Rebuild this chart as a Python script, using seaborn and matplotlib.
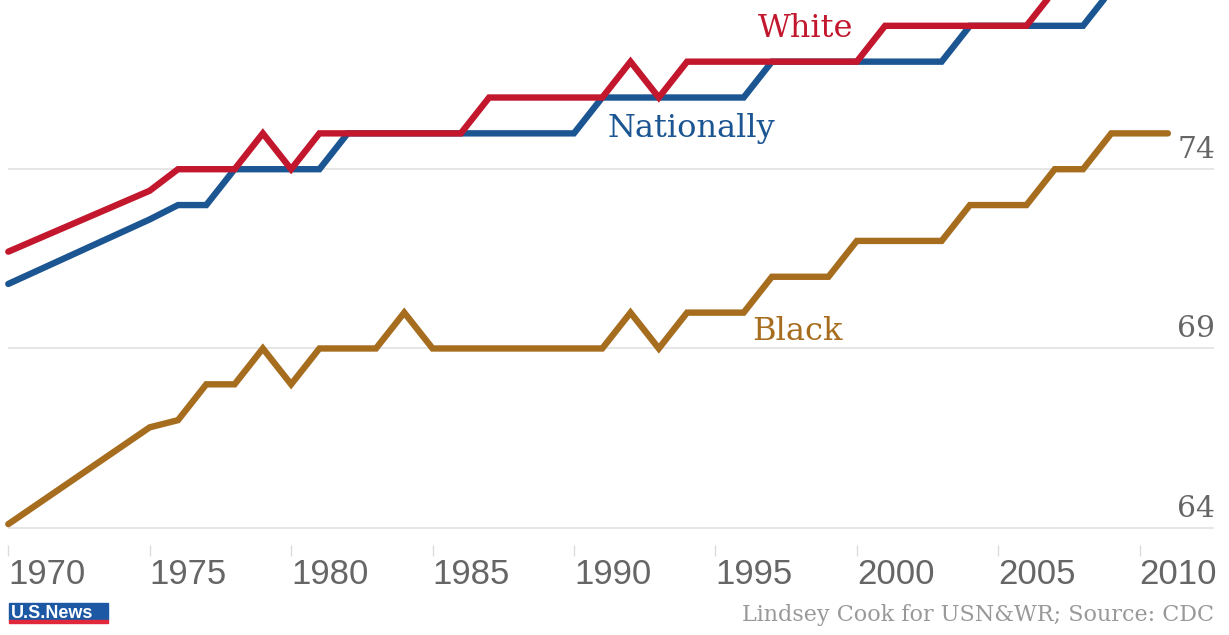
import pandas as pd
import numpy as np
import matplotlib.pyplot as plt
import matplotlib.patches as mpatches
import seaborn as sns

# Life expectancy at birth (values above ~78.7 run off the top)
years = [1970, 1975, 1976, 1977, 1978, 1979, 1980, 1981, 1982, 1983, 1984,
         1985, 1986, 1987, 1988, 1989, 1990, 1991, 1992, 1993, 1994, 1995,
         1996, 1997, 1998, 1999, 2000, 2001, 2002, 2003, 2004, 2005, 2006,
         2007, 2008, 2009, 2010, 2011]
nationally = [70.8, 72.6, 73, 73, 74, 74, 74, 74, 75, 75, 75,
              75, 75, 75, 75, 75, 75, 76, 76, 76, 76, 76,
              76, 77, 77, 77, 77, 77, 77, 77, 78, 78, 78,
              78, 78, 79, 79, 79]
white = [71.7, 73.4, 74, 74, 74, 75, 74, 75, 75, 75, 75,
         75, 75, 76, 76, 76, 76, 76, 77, 76, 77, 77,
         77, 77, 77, 77, 77, 78, 78, 78, 78, 78, 78,
         79, 79, 79, 79, 79]
black = [64.1, 66.8, 67.0, 68, 68, 69, 68, 69, 69, 69, 70,
         69, 69, 69, 69, 69, 69, 69, 70, 69, 70, 70,
         70, 71, 71, 71, 72, 72, 72, 72, 73, 73, 73,
         74, 74, 75, 75, 75]

groups = ['Nationally', 'White', 'Black']
colors = {'Nationally': '#1b5592', 'White': '#c2172d', 'Black': '#a66d1f'}
x_ticks = [1970, 1975, 1980, 1985, 1990, 1995, 2000, 2005, 2010]
y_ticks = [64, 69, 74]

df = pd.concat([
    pd.DataFrame({'year': years, 'life': nationally, 'group': 'Nationally'}),
    pd.DataFrame({'year': years, 'life': white, 'group': 'White'}),
    pd.DataFrame({'year': years, 'life': black, 'group': 'Black'}),
])

sns.set_style("white")
plt.rcParams['font.family'] = ['DejaVu Serif']

W, H = 1229, 635
fig = plt.figure(figsize=(W / 100, H / 100), dpi=100)
# axes box in pixels: left 8, right 1214, top 0, bottom 545
ax = fig.add_axes([8.3 / W, (H - 545) / H, (1213.7 - 8.3) / W, 545 / H])

sns.lineplot(data=df, x='year', y='life', hue='group', hue_order=groups,
             palette=colors, linewidth=4.6, legend=False, ax=ax,
             clip_on=False, solid_capstyle='round', solid_joinstyle='miter')

ax.set_xlim(1970, 2012.62)
ax.set_ylim(63.518, 78.72)
for s in ax.spines.values():
    s.set_visible(False)
ax.set_xlabel('')
ax.set_ylabel('')

# horizontal gridlines, labels sit above them on the right
ax.set_yticks(y_ticks)
ax.yaxis.grid(True, color='#e4e4e4', linewidth=1.3)
ax.xaxis.grid(False)
ax.set_axisbelow(True)
ax.tick_params(axis='y', length=0, labelleft=False, labelright=False)
for t in y_ticks:
    ax.annotate(str(t), xy=(1.0, t), xycoords=('axes fraction', 'data'),
                xytext=(1, 8), textcoords='offset points', ha='right',
                va='baseline', fontsize=21.5, color='#666666')

# x ticks: small gray marks, left-aligned year labels
ax.set_xticks(x_ticks)
ax.set_xticklabels([str(x) for x in x_ticks])
ax.tick_params(axis='x', bottom=True, direction='out', length=8, width=1,
               color='#dcdcdc', pad=1.5, labelsize=25, labelcolor='#666666')
for lab in ax.get_xticklabels():
    lab.set_horizontalalignment('left')
    lab.set_family(['Liberation Sans', 'DejaVu Sans'])

# series labels
ax.text(1996.5, 77.69, 'White', color=colors['White'], fontsize=23, va='baseline')
ax.text(1991.17, 74.91, 'Nationally', color=colors['Nationally'], fontsize=23, va='baseline')
ax.text(1996.29, 69.23, 'Black', color=colors['Black'], fontsize=23, va='baseline')

# credit line
fig.text(1214 / W, 1 - 621 / H, 'Lindsey Cook for USN&WR; Source: CDC',
         ha='right', va='baseline', fontsize=16, color='#999999')

# U.S.News logo (approximation)
fig.patches.append(mpatches.Rectangle((9 / W, 1 - 620 / H), 99 / W, 17 / H,
                                      transform=fig.transFigure, color='#1d58a5'))
fig.patches.append(mpatches.Rectangle((9 / W, 1 - 623 / H), 99 / W, 3 / H,
                                      transform=fig.transFigure, color='#e0283a'))
fig.text(11 / W, 1 - 618 / H, 'U.S.News', color='white', fontsize=13,
         fontweight='bold', family=['Liberation Sans', 'DejaVu Sans'],
         va='baseline')

fig.savefig('out.png', dpi=100)
